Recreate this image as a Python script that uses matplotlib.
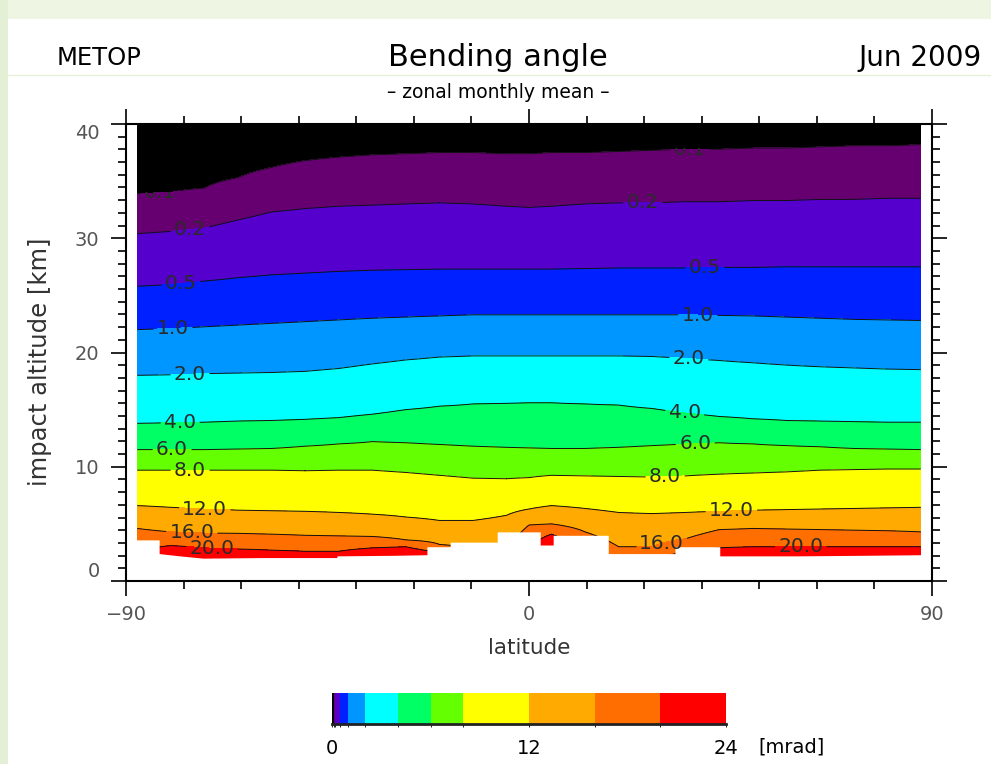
import numpy as np
import matplotlib
matplotlib.use("Agg")
import matplotlib.pyplot as plt
from matplotlib.colors import ListedColormap, BoundaryNorm
import matplotlib.colorbar as mcolorbar
from matplotlib.ticker import FixedLocator
from matplotlib.patches import Rectangle
from matplotlib.lines import Line2D

# ---------------- data ----------------
lat = [-87.5, -80, -72.5, -65, -57.5, -50, -42.5, -35, -27.5, -20, -12.5, -5, 0,
       5, 12.5, 20, 27.5, 35, 42.5, 50, 57.5, 65, 72.5, 80, 87.5]

levels = [0.1, 0.2, 0.5, 1.0, 2.0, 4.0, 6.0, 8.0, 12.0, 16.0, 20.0]

# altitude [km] of each contour level at each latitude
h_01 = [33.9, 34.0, 34.4, 35.3, 36.2, 36.8, 37.1, 37.3, 37.4, 37.5, 37.5, 37.4, 37.4,
        37.5, 37.5, 37.6, 37.7, 37.8, 37.8, 37.9, 37.9, 38.0, 38.1, 38.1, 38.2]
h_02 = [30.4, 30.6, 30.9, 31.6, 32.3, 32.6, 32.8, 32.9, 33.0, 33.1, 33.0, 32.8, 32.7,
        32.8, 33.0, 33.1, 33.1, 33.2, 33.2, 33.3, 33.3, 33.4, 33.4, 33.5, 33.5]
h_05 = [25.8, 25.95, 26.25, 26.55, 26.8, 26.95, 27.1, 27.2, 27.25, 27.3, 27.3, 27.3, 27.3,
        27.3, 27.35, 27.4, 27.4, 27.4, 27.45, 27.45, 27.5, 27.5, 27.5, 27.5, 27.5]
h_1 = [22.0, 22.1, 22.25, 22.4, 22.55, 22.7, 22.85, 23.0, 23.1, 23.2, 23.3, 23.3, 23.3,
       23.3, 23.3, 23.3, 23.3, 23.3, 23.25, 23.2, 23.1, 23.0, 22.9, 22.85, 22.8]
h_2 = [18.0, 18.05, 18.15, 18.2, 18.25, 18.35, 18.6, 19.0, 19.35, 19.6, 19.7, 19.7, 19.7,
       19.7, 19.7, 19.7, 19.65, 19.5, 19.3, 19.1, 18.9, 18.75, 18.65, 18.55, 18.5]
h_4 = [13.8, 13.85, 13.9, 14.0, 14.05, 14.15, 14.3, 14.6, 15.0, 15.3, 15.5, 15.55, 15.6,
       15.6, 15.5, 15.4, 15.1, 14.7, 14.4, 14.2, 14.05, 14.0, 13.95, 13.9, 13.9]
h_6 = [11.5, 11.5, 11.5, 11.55, 11.6, 11.8, 12.0, 12.2, 12.1, 11.95, 11.8, 11.7, 11.65,
       11.6, 11.6, 11.7, 11.85, 12.0, 12.1, 12.0, 11.85, 11.75, 11.6, 11.55, 11.5]
h_8 = [9.7, 9.7, 9.7, 9.7, 9.7, 9.65, 9.7, 9.7, 9.5, 9.25, 9.0, 8.95, 9.05,
       9.25, 9.2, 9.15, 9.1, 9.2, 9.35, 9.45, 9.55, 9.7, 9.75, 9.8, 9.8]
h_12 = [6.6, 6.45, 6.3, 6.2, 6.15, 6.1, 6.0, 5.85, 5.6, 5.3, 5.3, 5.75, 6.3,
        6.6, 6.35, 6.0, 5.9, 6.0, 6.1, 6.2, 6.25, 6.3, 6.35, 6.4, 6.45]
h_16 = [4.6, 4.3, 4.2, 4.17, 4.1, 4.0, 3.95, 3.9, 3.6, 3.2, 2.6, 2.6, 4.9,
        5.0, 4.3, 3.0, 3.0, 3.7, 4.5, 4.6, 4.55, 4.5, 4.45, 4.4, 4.3]
h_20 = [2.5, 3.1, 2.9, 2.8, 2.7, 2.6, 2.6, 2.9, 3.0, 2.5, 2.0, 2.0, 3.0,
        4.1, 2.5, 2.0, 2.0, 2.5, 2.9, 3.0, 3.0, 3.0, 3.0, 3.0, 3.0]

# lower edge of the valid data (white below)
bottom_lat = [-87.5, -82.6, -82.6, -78.0, -72.8, -60.0, -42.9, -42.9, -30.0, -22.8, -22.8,
              -17.6, -17.6, -7.1, -7.1, 2.5, 2.5, 5.4, 5.4, 17.7, 17.7, 32.6, 32.6,
              42.6, 42.6, 60.0, 75.0, 87.5]
bottom_alt = [3.6, 3.6, 2.4, 2.2, 2.0, 2.05, 2.05, 2.2, 2.25, 2.3, 3.0,
              3.0, 3.4, 3.4, 4.3, 4.3, 3.15, 3.15, 4.0, 4.0, 2.4, 2.4, 3.0,
              3.0, 2.2, 2.2, 2.25, 2.3]

colors = ['#000000', '#660070', '#5500cc', '#0020ff', '#0096ff', '#00ffff',
          '#00ff64', '#64ff00', '#ffff00', '#ffaa00', '#ff6e00', '#ff0000']
cbar_bounds = [0, 0.1, 0.2, 0.5, 1, 2, 4, 6, 8, 12, 16, 20, 24]
cbar_ticks = [0, 12, 24]

# label positions (lat, alt)
label_pos = [(-82.4, 34.0), (35.9, 37.8), (-75.7, 30.75), (25.4, 33.1),
             (-77.7, 26.0), (39.3, 27.4), (-79.5, 22.15), (37.7, 23.3),
             (-75.7, 18.1), (35.7, 19.5), (-77.9, 13.87), (34.8, 14.8),
             (-79.7, 11.5), (37.1, 12.05), (-75.7, 9.7), (30.4, 9.12),
             (-72.4, 6.3), (45.2, 6.12), (-75.3, 4.3), (29.7, 3.2),
             (-70.8, 2.85), (60.7, 3.0)]

# ---------------- build field ----------------
H = np.array([h_20, h_16, h_12, h_8, h_6, h_4, h_2, h_1, h_05, h_02, h_01])
lv = levels[::-1]
alt = np.linspace(0, 40, 801)
Z = np.empty((alt.size, len(lat)))
vy = np.log10(np.concatenate([[40.0], lv, [0.03]]))
for j in range(len(lat)):
    hx = np.concatenate([[0.0], H[:, j], [45.0]])
    Z[:, j] = 10 ** np.interp(alt, hx, vy)

# ---------------- figure ----------------
W, Hh = 991, 764
fig = plt.figure(figsize=(W / 100, Hh / 100), dpi=100)
fig.patch.set_facecolor('white')


def fx(x):
    return x / W


def fy(y):
    return 1 - y / Hh


fig.patches.append(Rectangle((0, fy(19)), 1, 19 / Hh, transform=fig.transFigure,
                             facecolor='#eef6e3', edgecolor='none', zorder=0))
fig.patches.append(Rectangle((0, 0), 8 / W, 1, transform=fig.transFigure,
                             facecolor='#e3f0d5', edgecolor='none', zorder=0))
fig.lines.append(Line2D([fx(8), 1], [fy(75), fy(75)], transform=fig.transFigure,
                        color='#e6f1da', lw=1.0))

ax = fig.add_axes([fx(126), fy(581), (932 - 126) / W, (581 - 124) / Hh])
cf = ax.contourf(lat, alt, Z, levels=[0] + levels + [1000], colors=colors)
cs = ax.contour(lat, alt, Z, levels=levels, colors='#111111', linewidths=0.7)
wx = [-90.0] + bottom_lat + [90.0]
wy = [bottom_alt[0]] + bottom_alt + [bottom_alt[-1]]
ax.fill_between(wx, -1, wy, color='white', lw=0, zorder=2.2)
txts = ax.clabel(cs, manual=label_pos, inline=True, fmt='%.1f', fontsize=14.5,
                 colors='#2a2a2a', inline_spacing=4)
for t in txts:
    t.set_rotation(0)
    if t.get_text() == '0.1':
        x0, y0 = t.get_position()
        t.set_clip_path(Rectangle((-90, 0), 180, y0 + 0.1, transform=ax.transData))

ax.set_xlim(-90, 90)
ax.set_ylim(0, 40)
ax.set_xticks([-90, 0, 90])
ax.set_xticklabels(['\u221290', '0', '90'])
ax.xaxis.set_minor_locator(FixedLocator(np.linspace(-90, 90, 15)))
ax.set_yticks([0, 10, 20, 30, 40])
ax.set_yticklabels(['0', '10', '20', '30', '40'])
ax.yaxis.set_minor_locator(FixedLocator(np.linspace(0, 40, 37)))
ax.tick_params(which='both', direction='out', top=True, right=True,
               labeltop=False, labelright=False, width=1.2, color='black')
ax.tick_params(which='major', length=11, labelsize=14, labelcolor='#555555')
ax.tick_params(which='minor', length=6)
ax.tick_params(axis='x', which='major', pad=6)
ax.tick_params(axis='y', which='major', pad=8)
for sp in ax.spines.values():
    sp.set_linewidth(1.5)
for lab in ax.get_yticklabels():
    if lab.get_text() == '40':
        lab.set_va('top')
    elif lab.get_text() == '0':
        lab.set_va('bottom')

fig.text(fx(529), fy(648), 'latitude', ha='center', va='center', fontsize=15.5,
         color='#333333')
fig.text(fx(40), fy(362), 'impact altitude [km]', ha='center', va='center',
         rotation=90, fontsize=17.5, color='#333333')

fig.text(fx(57), fy(58), 'METOP', ha='left', va='center', fontsize=17.5)
fig.text(fx(498), fy(57), 'Bending angle', ha='center', va='center', fontsize=22)
fig.text(fx(982), fy(58), 'Jun 2009', ha='right', va='center', fontsize=20)
fig.text(fx(498), fy(93), '\u2013 zonal monthly mean \u2013', ha='center', va='center',
         fontsize=13.5)

# colorbar
cax = fig.add_axes([fx(332), fy(724), (726 - 332) / W, 31 / Hh])
cmap = ListedColormap(colors)
norm = BoundaryNorm(cbar_bounds, cmap.N)
cb = mcolorbar.ColorbarBase(cax, cmap=cmap, norm=norm, boundaries=cbar_bounds,
                            spacing='proportional', orientation='horizontal')
cb.set_ticks([])
cb.outline.set_visible(False)
cax.plot([0, 24], [0, 0], color='#222222', lw=2, clip_on=False)
for v in cbar_ticks:
    fig.text(fx(332 + v / 24 * 394), fy(749), str(v), ha='center', va='center',
             fontsize=14)
fig.text(fx(791), fy(747), '[mrad]', ha='center', va='center', fontsize=14)

fig.savefig('out.png', dpi=100)
